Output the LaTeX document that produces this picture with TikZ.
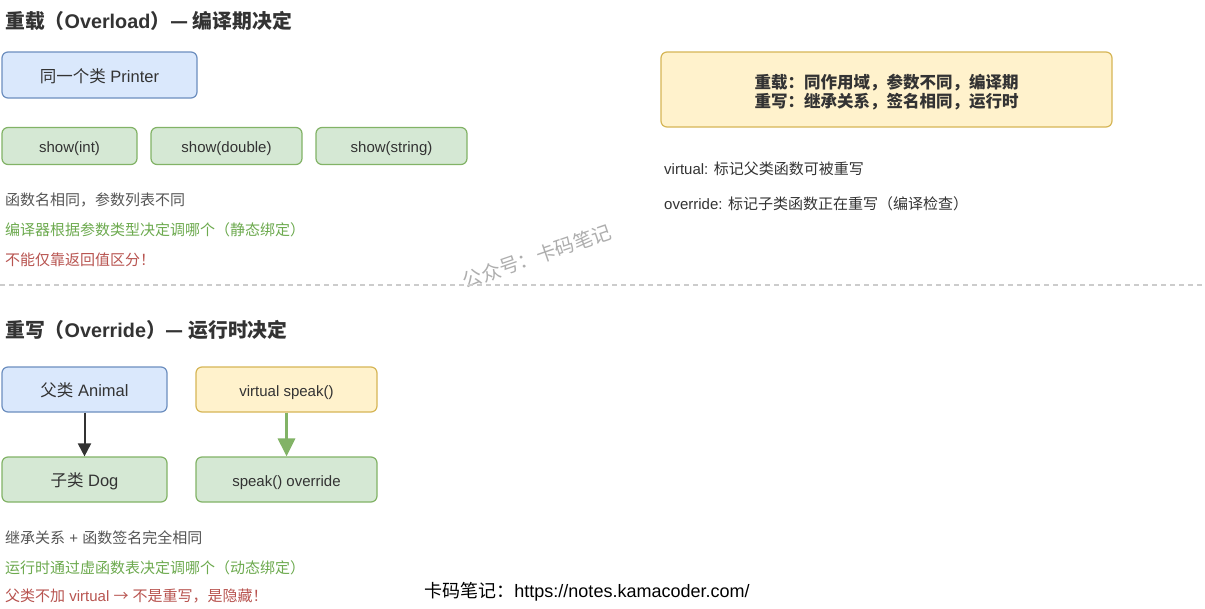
\documentclass[tikz,border=0pt]{standalone}
\usepackage{fontspec}
\setmainfont{Liberation Sans}
\newfontfamily\cjk{Noto Sans CJK SC}
\newcommand{\C}[1]{{\cjk #1}}
\usetikzlibrary{arrows.meta}
\definecolor{bF}{HTML}{DAE8FC}
\definecolor{bD}{HTML}{6C8EBF}
\definecolor{gF}{HTML}{D5E8D4}
\definecolor{gD}{HTML}{82B366}
\definecolor{yF}{HTML}{FFF2CC}
\definecolor{yD}{HTML}{D6B656}
\definecolor{txt}{HTML}{333333}
\definecolor{grayt}{HTML}{555555}
\definecolor{greent}{HTML}{6DAA4F}
\definecolor{redt}{HTML}{B85450}
\definecolor{dashc}{HTML}{CCCCCC}
\definecolor{wm}{HTML}{AEAEAE}
\begin{document}
\begin{tikzpicture}[x=1pt,y=-1pt,
  box/.style={draw, rounded corners=6pt, line width=1.2pt, inner sep=0pt, text=txt, align=center},
  bluebox/.style={box, fill=bF, draw=bD},
  greenbox/.style={box, fill=gF, draw=gD},
  yellowbox/.style={box, fill=yF, draw=yD},
  big/.style={font=\fontsize{16.5}{19}\selectfont, text height=15.2pt, text depth=0.8pt},
  small/.style={font=\fontsize{15}{18}\selectfont, text height=13.8pt, text depth=0.75pt},
  lbl/.style={anchor=west, inner sep=0pt, font=\fontsize{15}{18}\selectfont},
  ttl/.style={anchor=west, inner sep=0pt, text=txt, font=\fontsize{19.8}{22}\selectfont\bfseries}]
\useasboundingbox (0,0) rectangle (1205,608);
\fill[white] (0,0) rectangle (1205,608);

% Section 1
\node[ttl] (t1) at (5,21) {\C{重载（}Overload\C{）— 编译期决定}};
\node[bluebox, big, minimum width=195pt, minimum height=46pt] (printer) at (99.5,75) {\C{同一个类} Printer};
\node[greenbox, small, minimum width=135pt, minimum height=37pt] (sint) at (69.5,146) {show(int)};
\node[greenbox, small, minimum width=151pt, minimum height=37pt] (sdouble) at (226.5,146) {show(double)};
\node[greenbox, small, minimum width=151pt, minimum height=37pt] (sstring) at (391.5,146) {show(string)};
\node[lbl, text=grayt] (l1) at (5,199.5) {\C{函数名相同，参数列表不同}};
\node[lbl, text=greent] (l2) at (5,229.5) {\C{编译器根据参数类型决定调哪个（静态绑定）}};
\node[lbl, text=redt] (l3) at (5,259.5) {\C{不能仅靠返回值区分！}};

% Summary
\node[yellowbox, minimum width=451pt, minimum height=75pt] (sum) at (886.5,89.5) {};
\node[inner sep=0pt, align=center, text=txt, font=\fontsize{16.5}{18.5}\selectfont\bfseries] (sumtext) at (886.5,92)
  {\C{重载：同作用域，参数不同，编译期}\\\C{重写：继承关系，签名相同，运行时}};
\node[lbl, text=txt] (v1) at (664,168.5) {virtual: \C{标记父类函数可被重写}};
\node[lbl, text=txt] (v2) at (664,203.5) {override: \C{标记子类函数正在重写（编译检查）}};

% Watermark
\node[text=wm, rotate=19, inner sep=0pt, font=\fontsize{19.5}{21}\selectfont] (wmk) at (537,256) {\C{公众号：卡码笔记}};

% Separator
\coordinate (sepL) at (0,285);
\coordinate (sepR) at (1202,285);
\draw[dashc, line width=1.5pt, dash pattern=on 5pt off 4pt] (sepL) -- (sepR);

% Section 2
\node[ttl] (t2) at (5,330) {\C{重写（}Override\C{）— 运行时决定}};
\node[bluebox, big, minimum width=165pt, minimum height=45pt] (animal) at (84.5,389.5) {\C{父类} Animal};
\node[yellowbox, small, minimum width=181pt, minimum height=45pt] (vspeak) at (286.5,389.5) {virtual speak()};
\node[greenbox, big, minimum width=165pt, minimum height=45pt] (dog) at (84.5,479.5) {\C{子类} Dog};
\node[greenbox, small, minimum width=181pt, minimum height=45pt] (ospeak) at (286.5,479.5) {speak() override};
\draw[txt, line width=2pt, -{Triangle[length=13pt,width=13pt]}] (animal.south) -- (dog.north);
\draw[gD, line width=3pt, -{Triangle[length=18pt,width=17pt]}] (vspeak.south) -- (ospeak.north);

\node[lbl, text=grayt] (m1) at (5,537.5) {\C{继承关系} + \C{函数签名完全相同}};
\node[lbl, text=greent] (m2) at (5,567.5) {\C{运行时通过虚函数表决定调哪个（动态绑定）}};
\node[lbl, text=redt] (m3) at (5,595.5) {\C{父类不加} virtual \C{→} \C{不是重写，是隐藏！}};

% Footer
\node[inner sep=0pt, text=black, font=\fontsize{18}{20}\selectfont] (foot) at (587,592) {\C{卡码笔记：}https://notes.kamacoder.com/};
\end{tikzpicture}
\end{document}
